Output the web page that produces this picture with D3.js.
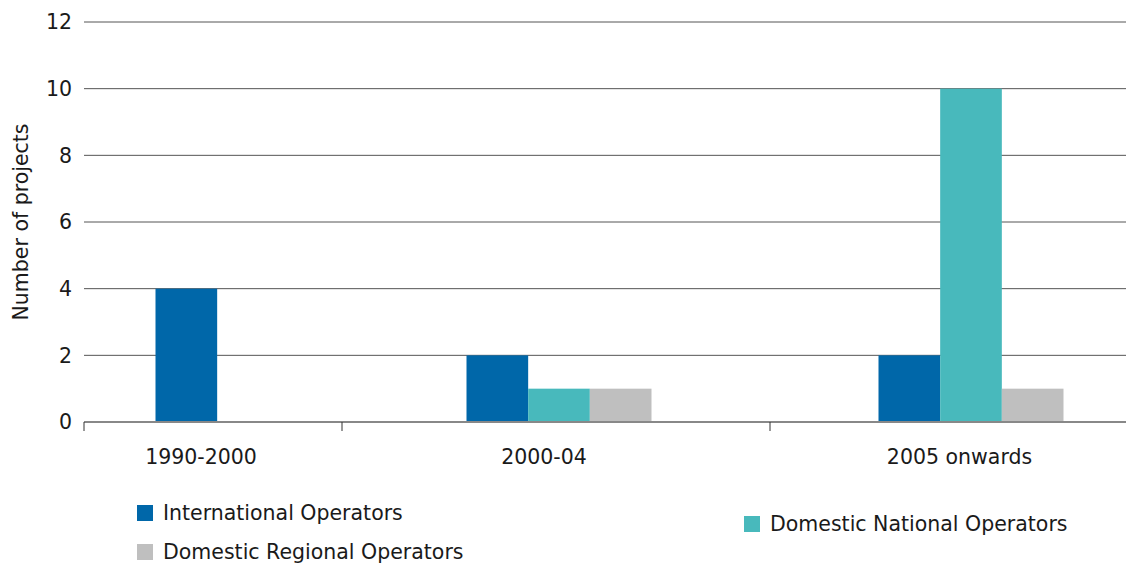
<!DOCTYPE html>
<html>
<head>
<meta charset="utf-8">
<script src="https://cdn.jsdelivr.net/npm/d3@7"></script>
<style>
  body { margin: 0; background: #fff; }
  text { font-family: "DejaVu Sans", "Liberation Sans", Arial, sans-serif; fill: #1a1a1a; }
</style>
</head>
<body>
<div id="chart"></div>
<script>
// Data
const categories = ["1990-2000", "2000-04", "2005 onwards"]
const series = ["International Operators", "Domestic National Operators", "Domestic Regional Operators"]
const international = [4, 2, 2]
const domesticNational = [0, 1, 10]
const domesticRegional = [0, 1, 1]
const yTicks = [0, 2, 4, 6, 8, 10, 12]

const colors = ["#0067a9", "#48b9bc", "#bfbfbf"]
const values = [international, domesticNational, domesticRegional]

const width = 1126
const height = 564
const plotLeft = 84
const plotRight = 1126
const fontSize = "20.5px"

const svg = d3.select("#chart")
  .append("svg")
  .attr("width", width)
  .attr("height", height)

// The original spaces its categories unevenly: piecewise scale over
// band edges (integers) and bar-group centres (halves)
const x = d3.scaleLinear()
  .domain([0, 0.5, 1, 1.5, 2, 2.5, 3])
  .range([plotLeft, 248, 342, 559, 770, 971, 1173])

const y = d3.scaleLinear().domain([0, 12]).range([422, 22])

const groupWidth = 185
const xSub = d3.scaleBand().domain(series).range([-groupWidth / 2, groupWidth / 2])

// Gridlines
svg.append("g")
  .selectAll("line")
  .data(yTicks.filter((d) => d > 0))
  .join("line")
  .attr("x1", plotLeft)
  .attr("x2", plotRight)
  .attr("y1", (d) => y(d))
  .attr("y2", (d) => y(d))
  .attr("stroke", "#555")
  .attr("stroke-width", 1)

// Y tick labels
svg.append("g")
  .selectAll("text")
  .data(yTicks)
  .join("text")
  .attr("x", 72)
  .attr("y", (d) => y(d))
  .attr("dy", "0.36em")
  .attr("text-anchor", "end")
  .style("font-size", fontSize)
  .text((d) => d)

// Y title
svg.append("text")
  .attr("transform", `translate(28,${y(6)}) rotate(-90)`)
  .attr("text-anchor", "middle")
  .style("font-size", fontSize)
  .text("Number of projects")

// Bars
series.forEach((s, si) => {
  svg.append("g")
    .selectAll("rect")
    .data(categories.map((c, i) => ({ i, v: values[si][i] })).filter((d) => d.v > 0))
    .join("rect")
    .attr("x", (d) => x(d.i + 0.5) + xSub(s))
    .attr("width", xSub.bandwidth())
    .attr("y", (d) => y(d.v))
    .attr("height", (d) => y(0) - y(d.v))
    .attr("fill", colors[si])
})

// Baseline and category ticks
svg.append("line")
  .attr("x1", plotLeft)
  .attr("x2", plotRight)
  .attr("y1", y(0))
  .attr("y2", y(0))
  .attr("stroke", "#888")
  .attr("stroke-width", 2)

svg.append("g")
  .selectAll("line")
  .data([0, 1, 2])
  .join("line")
  .attr("x1", (d) => x(d))
  .attr("x2", (d) => x(d))
  .attr("y1", y(0))
  .attr("y2", y(0) + 9)
  .attr("stroke", "#333")
  .attr("stroke-width", 1)

// Category labels, centred between band edges
svg.append("g")
  .selectAll("text")
  .data(categories)
  .join("text")
  .attr("x", (d, i) => (x(i) + x(i + 1)) / 2 - 12)
  .attr("y", 464)
  .attr("text-anchor", "middle")
  .style("font-size", fontSize)
  .text((d) => d)

// Legend
const legendPos = [
  { x: 137, y: 505 },
  { x: 744, y: 516 },
  { x: 137, y: 544 }
]
series.forEach((s, si) => {
  const g = svg.append("g").attr("transform", `translate(${legendPos[si].x},${legendPos[si].y})`)
  g.append("rect").attr("width", 16).attr("height", 16).attr("fill", colors[si])
  g.append("text")
    .attr("x", 26)
    .attr("y", 8)
    .attr("dy", "0.36em")
    .style("font-size", fontSize)
    .text(s)
})
</script>
</body>
</html>
